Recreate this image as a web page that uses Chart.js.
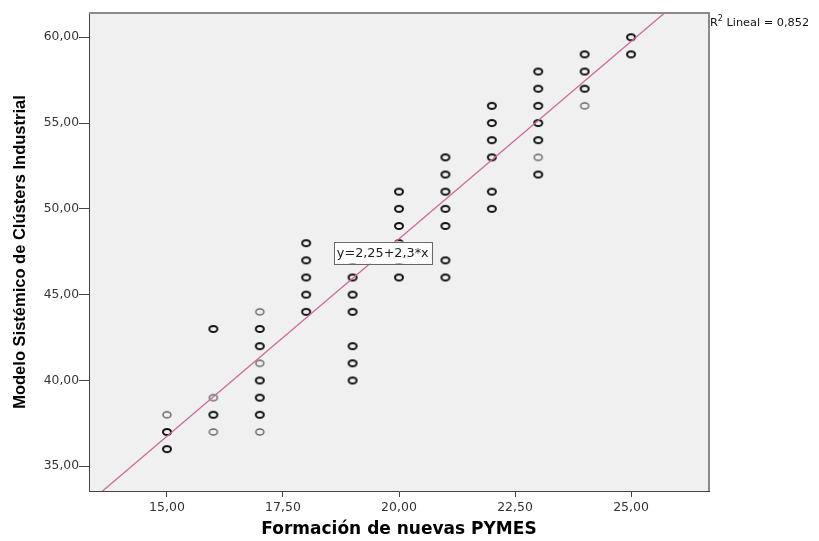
<!DOCTYPE html>
<html><head><meta charset="utf-8">
<script src="https://cdn.jsdelivr.net/npm/chart.js@4"></script>
<style>html,body{margin:0;padding:0;background:#fff}</style>
</head><body>
<canvas id="c" width="819" height="541" style="width:819px;height:541px;display:block"></canvas>
<script>
// Data
const darkX = [15,15, 16,16, 17,17,17,17,17, 18,18,18,18,18, 19,19,19,19,19,19,19, 20,20,20,20,20,20, 21,21,21,21,21,21,21, 22,22,22,22,22,22, 23,23,23,23,23,23, 24,24,24, 25,25];
const darkY = [37,36, 43,38, 43,42,40,39,38, 48,47,46,45,44, 47,46,45,44,42,41,40, 51,50,49,48,47,46, 53,52,51,50,49,47,46, 56,55,54,53,51,50, 58,57,56,55,54,52, 59,58,57, 60,59];
const lightX = [15, 16,16, 17,17,17, 23, 24];
const lightY = [38, 39,37, 44,41,37, 53, 56];
const xTicks = [15, 17.5, 20, 22.5, 25];
const yTicks = [35, 40, 45, 50, 55, 60];
const fitIntercept = 2.25;
const fitSlope = 2.3;
const fitLabel = 'y=2,25+2,3*x';
const r2Value = '0,852';

const xMin = 13.32, xMax = 26.68, yMin = 33.56, yMax = 61.41;
const toPts = (xs, ys) => xs.map((x, i) => ({x: x, y: ys[i]}));
const fmt = v => Number(v).toFixed(2).replace('.', ',');
const SANS = "'Liberation Sans', Arial, sans-serif";
const WIDE = "'DejaVu Sans', sans-serif";

function ringStyle(color, lw) {
  const c = document.createElement('canvas');
  c.width = 12; c.height = 10;
  const g = c.getContext('2d');
  g.strokeStyle = color;
  g.lineWidth = lw;
  g.beginPath();
  g.ellipse(6, 5, 4, 3, 0, 0, Math.PI * 2);
  g.stroke();
  return c;
}
const darkRing = ringStyle('#111', 2);
const lightRing = ringStyle('#666', 1.4);

const decor = {
  id: 'decor',
  beforeDraw(chart) {
    const a = chart.chartArea, ctx = chart.ctx;
    ctx.save();
    ctx.fillStyle = '#f0f0f0';
    ctx.fillRect(a.left, a.top, a.right - a.left, a.bottom - a.top);
    ctx.restore();
  },
  afterDraw(chart) {
    const a = chart.chartArea, ctx = chart.ctx;
    const xs = chart.scales.x, ys = chart.scales.y;
    ctx.save();
    // top & right frame
    ctx.strokeStyle = '#8a8a8a';
    ctx.lineWidth = 2;
    ctx.beginPath();
    ctx.moveTo(a.left, a.top);
    ctx.lineTo(a.right, a.top);
    ctx.lineTo(a.right, a.bottom);
    ctx.stroke();
    // equation label box
    ctx.font = '12.8px ' + WIDE;
    const tw = ctx.measureText(fitLabel).width;
    const cx = xs.getPixelForValue(19.65), cy = ys.getPixelForValue(47.45);
    const bw = tw + 6, bh = 22;
    ctx.fillStyle = '#ffffff';
    ctx.fillRect(cx - bw / 2, cy - bh / 2, bw, bh);
    ctx.strokeStyle = '#666';
    ctx.lineWidth = 1;
    ctx.strokeRect(Math.round(cx - bw / 2) + 0.5, Math.round(cy - bh / 2) + 0.5, Math.round(bw), bh);
    ctx.fillStyle = '#222';
    ctx.textBaseline = 'middle';
    ctx.textAlign = 'center';
    ctx.fillText(fitLabel, cx, cy + 1);
    // R² label
    ctx.textAlign = 'left';
    ctx.textBaseline = 'alphabetic';
    let tx = a.right + 1;
    const ty = 26;
    ctx.fillStyle = '#111';
    ctx.font = '11.3px ' + WIDE;
    ctx.fillText('R', tx, ty);
    tx += ctx.measureText('R').width;
    ctx.font = '8px ' + WIDE;
    ctx.fillText('2', tx, ty - 5);
    tx += ctx.measureText('2').width;
    ctx.font = '11.3px ' + WIDE;
    ctx.fillText(' Lineal = ' + r2Value, tx, ty);
    ctx.restore();
  }
};

new Chart(document.getElementById('c'), {
  type: 'scatter',
  data: {
    datasets: [
      {
        type: 'line',
        data: [{x: xMin, y: fitIntercept + fitSlope * xMin}, {x: xMax, y: fitIntercept + fitSlope * xMax}],
        borderColor: '#cc6a9c',
        borderWidth: 1.3,
        pointRadius: 0,
        fill: false,
        order: 0
      },
      {
        data: toPts(lightX, lightY),
        pointStyle: lightRing,
        pointRadius: 5,
        order: 1
      },
      {
        data: toPts(darkX, darkY),
        pointStyle: darkRing,
        pointRadius: 5,
        order: 1
      }
    ]
  },
  options: {
    responsive: false,
    devicePixelRatio: 1,
    animation: false,
    layout: {padding: {left: 0, top: 13, right: 110, bottom: 0}},
    plugins: {legend: {display: false}, tooltip: {enabled: false}},
    scales: {
      x: {
        type: 'linear', min: xMin, max: xMax,
        afterBuildTicks: s => { s.ticks = xTicks.map(v => ({value: v})); },
        afterFit: s => { s.height = 50; },
        ticks: {callback: v => fmt(v), font: {family: WIDE, size: 12.5}, color: '#333', padding: 3, maxRotation: 0},
        grid: {drawOnChartArea: false, drawTicks: true, tickLength: 6, color: '#444', lineWidth: 1},
        border: {display: true, color: '#444', width: 1},
        title: {display: true, text: 'Formación de nuevas PYMES', font: {family: WIDE, size: 17, weight: 'bold'}, color: '#000', padding: {top: 0, bottom: 1}}
      },
      y: {
        type: 'linear', min: yMin, max: yMax,
        afterBuildTicks: s => { s.ticks = yTicks.map(v => ({value: v})); },
        afterFit: s => { s.width = 89; },
        ticks: {callback: v => fmt(v), font: {family: WIDE, size: 12.3}, color: '#333', padding: 0},
        grid: {drawOnChartArea: false, drawTicks: true, tickLength: 10, color: '#444', lineWidth: 1},
        border: {display: true, color: '#444', width: 1},
        title: {display: true, text: 'Modelo Sistémico de Clústers Industrial', font: {family: SANS, size: 16.5, weight: 'bold'}, color: '#000', padding: {top: 11, bottom: 0}}
      }
    }
  },
  plugins: [decor]
});
</script>
</body></html>
